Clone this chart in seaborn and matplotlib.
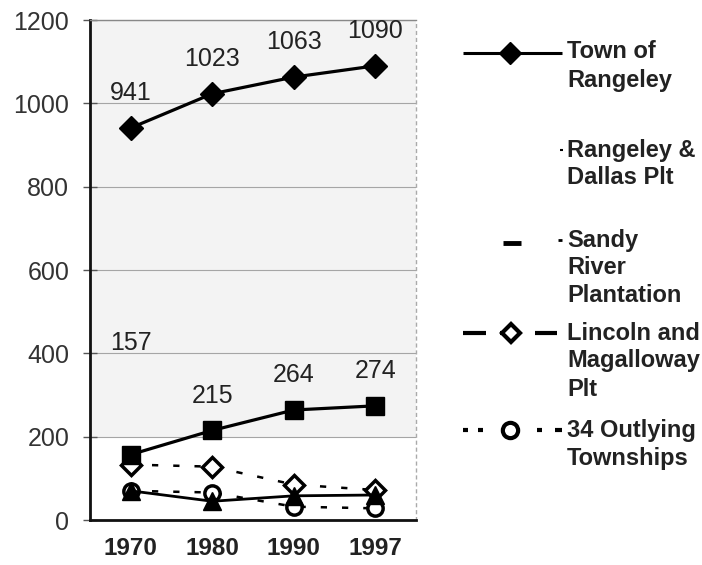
import numpy as np
import pandas as pd
import matplotlib.pyplot as plt
import seaborn as sns
from matplotlib.lines import Line2D

# values
years = ["1970", "1980", "1990", "1997"]
town_of_rangeley = [941, 1023, 1063, 1090]
rangeley_dallas = [157, 215, 264, 274]
sandy_river = [70, 45, 58, 60]
lincoln_magalloway = [133, 128, 85, 72]
outlying_townships = [70, 66, 32, 28]

series = {
    "Town of\nRangeley": town_of_rangeley,
    "Rangeley &\nDallas Plt": rangeley_dallas,
    "Sandy\nRiver\nPlantation": sandy_river,
    "Lincoln and\nMagalloway\nPlt": lincoln_magalloway,
    "34 Outlying\nTownships": outlying_townships,
}
labelled = ["Town of\nRangeley", "Rangeley &\nDallas Plt"]

rows = []
for name, vals in series.items():
    for i, (yr, v) in enumerate(zip(years, vals)):
        rows.append({"series": name, "pos": i, "year": yr, "value": v})
df = pd.DataFrame(rows)

sns.set_style("white")
plt.rcParams["font.family"] = ["Liberation Sans", "DejaVu Sans"]

W, H = 702, 565
fig = plt.figure(figsize=(W / 100, H / 100), dpi=100)
ax = fig.add_axes([90 / W, 1 - 520 / H, (416 - 90) / W, (520 - 20) / H])

# faint grey plot area (scan look) above the 200 line
ax.axhspan(200, 1200, color="#f3f3f3", zorder=0, lw=0)

styles = {
    "34 Outlying\nTownships": dict(marker="o", markersize=11, markerfacecolor="white",
                                   markeredgewidth=2.5, linestyle=(0, (2.5, 6)), linewidth=1.8),
    "Lincoln and\nMagalloway\nPlt": dict(marker="D", markersize=10, markerfacecolor="white",
                                         markeredgewidth=2.5, linestyle=(0, (2.5, 6)), linewidth=1.8),
    "Sandy\nRiver\nPlantation": dict(marker="^", markersize=13, markerfacecolor="black",
                                     markeredgewidth=1, linestyle="-", linewidth=2),
    "Rangeley &\nDallas Plt": dict(marker="s", markersize=13, markerfacecolor="black",
                                   markeredgewidth=1, linestyle="-", linewidth=2.3),
    "Town of\nRangeley": dict(marker="D", markersize=12, markerfacecolor="black",
                              markeredgewidth=1, linestyle="-", linewidth=2.3),
}

for name, kw in styles.items():
    sub = df[df["series"] == name]
    sns.lineplot(data=sub, x="pos", y="value", color="black", markeredgecolor="black",
                 errorbar=None, legend=False, ax=ax, zorder=3, **kw)

# data labels
for name in labelled:
    sub = df[df["series"] == name]
    for _, r in sub.iterrows():
        off = 80 if (name.startswith("Rangeley &") and r["pos"] == 0) else 25
        ax.annotate(f"{r['value']}", (r["pos"], r["value"]), xytext=(0, off),
                    textcoords="offset points", ha="center", va="center",
                    fontsize=18, color="#222222")

ax.set_xlim(-0.5, 3.5)
ax.set_ylim(0, 1200)
ax.set_yticks(np.arange(0, 1201, 200))
ax.set_xticks(range(len(years)))
ax.set_xticklabels(years, fontsize=17.5, fontweight="bold", color="#222222")
ax.set_xticks([0.5, 1.5, 2.5], minor=True)
ax.tick_params(axis="x", which="major", length=0, pad=12)
ax.tick_params(axis="x", which="minor", length=5, width=1, direction="out", color="#555555")
ax.tick_params(axis="y", labelsize=18, labelcolor="#333333", direction="inout",
               length=10, width=1, color="#555555", pad=10, left=True)
ax.set_xlabel("")
ax.set_ylabel("")
ax.yaxis.grid(True, color="#a5a5a5", lw=0.8)
ax.set_axisbelow(True)

for s in ["left", "bottom"]:
    ax.spines[s].set_color("#111111")
    ax.spines[s].set_linewidth(2)
ax.spines["top"].set_color("#888888")
ax.spines["top"].set_linewidth(1)
ax.spines["right"].set_color("#aaaaaa")
ax.spines["right"].set_linewidth(1)
ax.spines["right"].set_linestyle((0, (2, 3)))


# hand-drawn legend to match the original layout
def fx(x):
    return x / W


def fy(y):
    return 1 - y / H


def seg(x0, x1, y, **kw):
    fig.add_artist(Line2D([fx(x0), fx(x1)], [fy(y), fy(y)], transform=fig.transFigure,
                          color="black", solid_capstyle="butt", **kw))


def mark(x, y, **kw):
    fig.add_artist(Line2D([fx(x)], [fy(y)], transform=fig.transFigure, color="black",
                          markeredgecolor="black", linestyle="none", **kw))


# Town of Rangeley
seg(463, 562, 53, lw=2.2)
mark(510, 53, marker="D", markersize=11, markerfacecolor="black")
# Rangeley & Dallas Plt (handle almost lost in the original)
seg(560, 563, 150, lw=1.5)
# Sandy River Plantation
seg(503, 521, 243, lw=3.5)
seg(558, 562, 240, lw=2)
# Lincoln and Magalloway Plt
seg(463, 486, 333, lw=3)
seg(535, 557, 333, lw=3)
seg(500, 506, 333, lw=3)
mark(511, 333, marker="D", markersize=9, markerfacecolor="white", markeredgewidth=3)
# 34 Outlying Townships
for a, b in [(463, 468), (478, 483), (537, 542), (555, 562)]:
    seg(a, b, 430, lw=3)
mark(510, 430, marker="o", markersize=11, markerfacecolor="white", markeredgewidth=3)

text_y = [52, 150, 240, 333, 430]
for (name, _), y0 in zip(series.items(), text_y):
    for k, line in enumerate(name.split("\n")):
        fig.text(fx(567), fy(y0 + 28 * k), line, fontsize=17, fontweight="bold",
                 color="#222222", ha="left", va="center")

fig.savefig("out.png", dpi=100)
